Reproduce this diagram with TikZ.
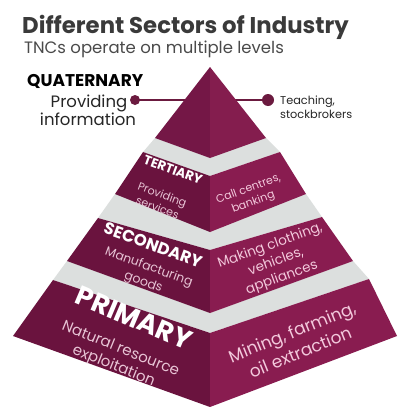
\documentclass[tikz,border=0pt]{standalone}
\usepackage{fontspec}
\setmainfont{Poppins}
\definecolor{lfc}{HTML}{6A133E}
\definecolor{rfc}{HTML}{891C50}
\definecolor{plc}{HTML}{741746}
\definecolor{prc}{HTML}{841D4E}
\definecolor{grayc}{HTML}{DCDFDE}
\definecolor{subc}{HTML}{E8C4D5}
\definecolor{rtc}{HTML}{F3C9DC}
\definecolor{dotc}{HTML}{6B1A3F}
\definecolor{titc}{HTML}{3A3A3A}
\definecolor{subtc}{HTML}{4A4A4A}
\begin{document}
\begin{tikzpicture}[x=1pt,y=-1pt,
  lface/.style={fill=lfc},
  rface/.style={fill=rfc},
  band/.style={fill=grayc},
  hdr/.style={font=\bfseries\fontsize{#1}{#1}\selectfont, text=white, inner sep=0pt},
  lsub/.style args={#1/#2}{font=\fontsize{#1}{#2}\selectfont, align=center, text=subc, inner sep=0pt},
  rsub/.style args={#1/#2}{font=\fontsize{#1}{#2}\selectfont, align=center, text=rtc, inner sep=0pt},
  dot/.style={circle, fill=dotc, inner sep=0pt, minimum size=#1},
  plain/.style={inner sep=0pt, anchor=base west}]
\useasboundingbox (0,0) rectangle (398,407);
\fill[white] (0,0) rectangle (398,407);
% titles
\node[plain, text=titc, font=\bfseries\fontsize{22.8}{26}\selectfont] (title) at (22,33) {Different Sectors of Industry};
\node[plain, text=subtc, font=\fontsize{16.5}{19}\selectfont] (subtitle) at (24,53) {TNCs operate on multiple levels};
% quaternary labels
\node[plain, text=black, font=\bfseries\fontsize{17}{19}\selectfont] (quat) at (27,86) {QUATERNARY};
\node[inner sep=0pt, anchor=base, text=black!85, font=\fontsize{16.5}{19}\selectfont] (qprov) at (89,107) {Providing};
\node[inner sep=0pt, anchor=base, text=black!85, font=\fontsize{16.5}{19}\selectfont] (qinfo) at (88,125) {information};
\node[plain, text=black!85, font=\fontsize{11.3}{13}\selectfont] (qteach) at (280,104) {Teaching,};
\node[plain, text=black!85, font=\fontsize{11.3}{13}\selectfont] (qstock) at (280,118) {stockbrokers};
% dots and connector
\node[dot=10pt] (ldot) at (135,100) {};
\node[dot=12pt] (rdot) at (268,100) {};
\draw[dotc, line width=2.5pt] (ldot.center) -- (rdot.center);
% geometry
\coordinate (A) at (210,67);
\coordinate (qL) at (155,138); \coordinate (qF) at (210,158); \coordinate (qR) at (266,138);
\coordinate (tTL) at (143,152); \coordinate (tTF) at (210,176); \coordinate (tTR) at (280,152);
\coordinate (tBL) at (115,194); \coordinate (tBF) at (210,232); \coordinate (tBR) at (306,194);
\coordinate (sTL) at (98,218); \coordinate (sTF) at (210,250); \coordinate (sTR) at (322,217);
\coordinate (sBL) at (67,261); \coordinate (sBF) at (210,313); \coordinate (sBR) at (353,261);
\coordinate (pTL) at (53,280); \coordinate (pTF) at (210,333); \coordinate (pTR) at (369,279);
\coordinate (pBL) at (13,336); \coordinate (pBF) at (210,407); \coordinate (pBR) at (397,336);
% grey bands
\fill[band] (tTL) -- (qL) -- (qR) -- (tTR) -- (tTF) -- cycle;
\fill[band] (sTL) -- (tBL) -- (tBR) -- (sTR) -- (sTF) -- cycle;
\fill[band] (pTL) -- (sBL) -- (sBR) -- (pTR) -- (pTF) -- cycle;
% faces
\fill[fill=plc] (A) -- (qL) -- (qF) -- cycle;
\fill[fill=prc] (A) -- (qF) -- (qR) -- cycle;
\fill[lface] (tTL) -- (tTF) -- (tBF) -- (tBL) -- cycle;
\fill[rface] (tTF) -- (tTR) -- (tBR) -- (tBF) -- cycle;
\fill[lface] (sTL) -- (sTF) -- (sBF) -- (sBL) -- cycle;
\fill[rface] (sTF) -- (sTR) -- (sBR) -- (sBF) -- cycle;
\fill[lface] (pTL) -- (pTF) -- (pBF) -- (pBL) -- cycle;
\fill[rface] (pTF) -- (pTR) -- (pBR) -- (pBF) -- cycle;
% tier texts
\node[hdr=13, rotate=-20] (tert) at (173,170) {TERTIARY};
\node[lsub=11/14, rotate=-20] (tertsub) at (160,201) {Providing\\services};
\node[rsub=11/14, rotate=20] (tertr) at (251,196) {Call centres,\\banking};
\node[hdr=16.5, rotate=-20] (sec) at (153,245) {SECONDARY};
\node[lsub=12.5/16, rotate=-20] (secsub) at (146,275) {Manufacturing\\goods};
\node[rsub=13.5/17, rotate=20] (secr) at (276,262) {Making clothing,\\vehicles,\\appliances};
\node[hdr=27, rotate=-23] (prim) at (134,318) {PRIMARY};
\node[lsub=15/18.5, rotate=-22] (primsub) at (117,358) {Natural resource\\exploitation};
\node[rsub=17/22, rotate=22] (primr) at (296,342) {Mining, farming,\\oil extraction};
\end{tikzpicture}
\end{document}
